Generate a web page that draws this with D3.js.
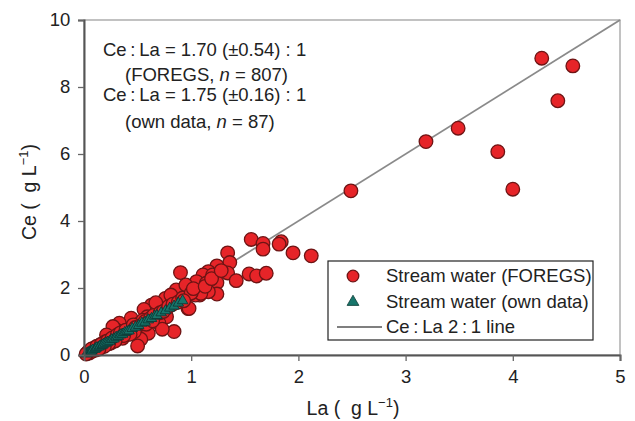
<!DOCTYPE html>
<html><head><meta charset="utf-8">
<script src="https://cdn.jsdelivr.net/npm/d3@7"></script>
<style>body{margin:0;background:#fff}svg{display:block;font-family:"Liberation Sans",Arial,sans-serif}</style>
</head><body><svg id="c" width="635" height="421"></svg>
<script>
const xTicks=[0,1,2,3,4,5];
const yTicks=[0,2,4,6,8,10];
// FOREGS stream water [La, Ce]
const foregsLa=[4.27,4.56,4.42,3.49,3.19,3.86,4.00,2.49,2.12,1.56,1.67,1.67,1.84,1.82,1.95,1.34,1.36,1.54,1.61,1.70,0.90,1.24,1.16,1.11,1.20,1.34,1.42,1.05,1.14,1.24,1.08,1.24,1.16,0.96,0.86,0.80,0.97,0.76,0.68,0.98,0.84,0.60,0.53,0.50,0.77,0.70,0.73,0.67,0.63,0.56,0.44,0.42,0.36,0.30,0.24,0.17,0.11,0.76,0.81,0.67,0.95,1.04,1.09,0.52,0.49,0.33,0.30,0.27,0.21,0.59,0.55,0.40,0.45,0.38,0.35,0.28,0.25,0.20,0.18,0.15,0.13,0.10,0.08,0.06,0.05,0.04,0.03,0.02,0.07,0.12,0.16,0.22,0.26,0.31,0.34,0.39,0.46,0.48,0.57,0.62,0.65,0.71,0.74,0.79,0.83,0.88,0.92,1.00,1.02,1.13,1.19,1.28,0.93,0.58,0.64,0.47,0.43,0.37,0.29,0.23,0.19,0.14];
const foregsCe=[8.86,8.63,7.59,6.77,6.37,6.07,4.95,4.90,2.96,3.45,3.33,3.16,3.38,3.31,3.05,3.05,2.76,2.42,2.36,2.44,2.46,2.66,2.49,2.39,2.39,2.45,2.22,2.19,2.14,2.16,1.79,1.82,1.89,1.76,1.94,1.69,1.39,1.34,1.44,1.39,0.70,0.65,0.47,0.27,1.14,0.95,0.77,1.24,1.49,1.36,1.10,0.75,0.50,0.55,0.45,0.25,0.15,1.69,1.79,1.56,2.09,1.79,1.84,0.95,0.85,0.95,0.75,0.85,0.60,1.14,1.04,0.62,0.80,0.72,0.58,0.52,0.36,0.40,0.28,0.30,0.20,0.22,0.12,0.14,0.06,0.10,0.05,0.03,0.18,0.26,0.32,0.42,0.50,0.60,0.66,0.74,0.90,0.82,1.00,1.10,1.18,1.26,1.30,1.45,1.52,1.58,1.70,1.85,1.98,2.05,2.28,2.52,1.62,0.92,1.02,0.70,0.62,0.58,0.42,0.34,0.26,0.18];
// Own data stream water [La, Ce]
const ownLa=[0.02,0.03,0.04,0.05,0.06,0.07,0.08,0.10,0.11,0.12,0.14,0.15,0.17,0.18,0.20,0.22,0.24,0.26,0.28,0.30,0.32,0.34,0.36,0.38,0.40,0.42,0.45,0.48,0.51,0.54,0.57,0.60,0.63,0.66,0.68,0.72,0.76,0.80,0.84,0.88,0.92];
const ownCe=[0.03,0.06,0.07,0.09,0.10,0.12,0.15,0.17,0.19,0.22,0.24,0.27,0.29,0.32,0.35,0.38,0.41,0.46,0.48,0.53,0.55,0.60,0.62,0.67,0.70,0.72,0.79,0.83,0.88,0.95,0.98,1.05,1.09,1.16,1.18,1.26,1.32,1.40,1.46,1.55,1.62];
const annot=["Ce\u2009:\u2009La = 1.70 (\u00b10.54) : 1","(FOREGS, n = 807)","Ce\u2009:\u2009La = 1.75 (\u00b10.16) : 1","(own data, n = 87)"];
const legendLabels=["Stream water (FOREGS)","Stream water (own data)","Ce\u2009:\u2009La 2\u2009:\u20091 line"];
const xTitle="La (\u00a0\u00a0g L", yTitle="Ce (\u00a0\u00a0g L", unitExp="\u22121";

const svg=d3.select("#c");
const L=84,R=620,T=20,B=355;
const x=d3.scaleLinear().domain([0,5]).range([L,R]);
const y=d3.scaleLinear().domain([0,10]).range([B,T]);
const fs=18.5;

svg.append("rect").attr("x",L).attr("y",T).attr("width",R-L).attr("height",B-T).attr("fill","none").attr("stroke","#999").attr("stroke-width",1.2);
svg.append("line").attr("x1",x(0)).attr("y1",y(0)).attr("x2",x(5)).attr("y2",y(10)).attr("stroke","#8a8a8a").attr("stroke-width",1.8);

const fdata=foregsLa.map((v,i)=>[v,foregsCe[i]]);
svg.append("g").selectAll("circle").data(fdata).join("circle")
 .attr("cx",d=>x(d[0])).attr("cy",d=>y(d[1])).attr("r",6.8)
 .attr("fill","#e62428").attr("stroke","#6e1414").attr("stroke-width",1.3);
const odata=ownLa.map((v,i)=>[v,ownCe[i]]);
const tri=d3.symbol().type(d3.symbolTriangle).size(48);
svg.append("g").selectAll("path").data(odata).join("path")
 .attr("transform",d=>`translate(${x(d[0])},${y(d[1])})`).attr("d",tri)
 .attr("fill","#17756b").attr("stroke","#0b3a35").attr("stroke-width",0.9);

const xa=svg.append("g").attr("transform",`translate(0,${B})`).call(d3.axisBottom(x).tickValues(xTicks).tickSize(6).tickFormat(d3.format("d")));
const ya=svg.append("g").attr("transform",`translate(${L},0)`).call(d3.axisLeft(y).tickValues(yTicks).tickSize(6).tickFormat(d3.format("d")));
[xa,ya].forEach(a=>{a.select(".domain").attr("stroke","#555").attr("stroke-width",2);
 a.selectAll(".tick line").attr("stroke","#666").attr("stroke-width",1.3);
 a.selectAll("text").attr("font-size",fs).attr("fill","#222").attr("font-family","Liberation Sans, Arial, sans-serif");});
xa.selectAll(".tick text").attr("dy","1.05em");
ya.selectAll(".tick text").attr("dx","-0.25em");

const ann=[[103,56],[125,81],[103,101],[125,128]];
annot.forEach((s,i)=>{
 const t=svg.append("text").attr("x",ann[i][0]).attr("y",ann[i][1]).attr("font-size",fs).attr("fill","#222");
 const parts=s.split("n = ");
 if(parts.length>1){t.append("tspan").text(parts[0]);t.append("tspan").attr("font-style","italic").text("n");t.append("tspan").text(" = "+parts[1]);}
 else t.text(s);
});

svg.append("rect").attr("x",328).attr("y",261).attr("width",265).attr("height",79).attr("fill","#fff").attr("stroke","#222").attr("stroke-width",1.2);
svg.append("circle").attr("cx",353).attr("cy",276).attr("r",5.8).attr("fill","#e62428").attr("stroke","#6e1414").attr("stroke-width",1.3);
svg.append("path").attr("transform","translate(353,302)").attr("d",d3.symbol().type(d3.symbolTriangle).size(60)).attr("fill","#17756b").attr("stroke","#0b3a35").attr("stroke-width",0.8);
svg.append("line").attr("x1",337).attr("x2",382).attr("y1",327).attr("y2",327).attr("stroke","#555").attr("stroke-width",1.5);
legendLabels.forEach((s,i)=>svg.append("text").attr("x",386).attr("y",282+i*25.5).attr("font-size",fs).attr("fill","#222").text(s));

const xt=svg.append("text").attr("x",353).attr("y",415).attr("text-anchor","middle").attr("font-size",fs+1).attr("fill","#222");
xt.append("tspan").text(xTitle);xt.append("tspan").attr("dy",-8).attr("font-size",13).text(unitExp);xt.append("tspan").attr("dy",8).text(")");
const yt=svg.append("text").attr("transform","translate(36,192) rotate(-90)").attr("text-anchor","middle").attr("font-size",fs+1).attr("fill","#222");
yt.append("tspan").text(yTitle);yt.append("tspan").attr("dy",-8).attr("font-size",13).text(unitExp);yt.append("tspan").attr("dy",8).text(")");
</script></body></html>
